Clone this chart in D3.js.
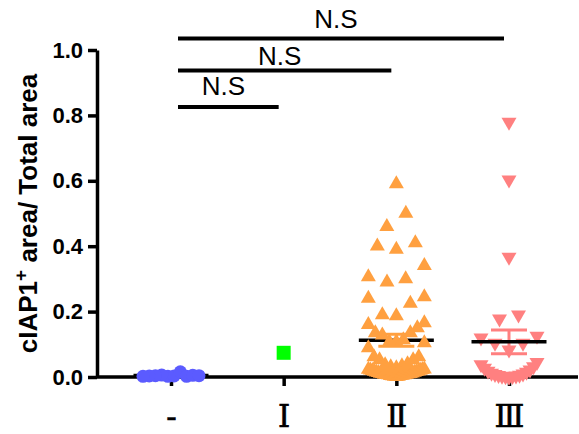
<!DOCTYPE html>
<html>
<head>
<meta charset="utf-8">
<script src="https://cdn.jsdelivr.net/npm/d3@7"></script>
<style>
  body { margin: 0; background: #fff; }
</style>
</head>
<body>
<div id="chart"></div>
<script>
// Chart size and plot box
const width = 579;
const height = 434;
const margin = {left: 97, right: 1, top: 50, bottom: 57};

// Groups on the x axis
const groups = ["-", "Ⅰ", "Ⅱ", "Ⅲ"];

// cIAP1+ area / total area, one array per group
const valuesNone = [0.002, 0.003, 0.006, 0.016, 0.004, 0.002, 0.003, 0.005, 0.002, 0.004];
const valuesI = [0.074];
const valuesII = [
  0.001, 0.002, 0.002, 0.003, 0.004, 0.004, 0.005, 0.006, 0.006, 0.007,
  0.008, 0.008, 0.009, 0.010, 0.010, 0.011, 0.012, 0.013, 0.014, 0.015,
  0.016, 0.017, 0.018, 0.019, 0.020, 0.021, 0.022, 0.023, 0.024,
  0.028, 0.031, 0.034, 0.037, 0.040, 0.052, 0.052, 0.061, 0.061, 0.089, 0.104,
  0.107, 0.107, 0.113, 0.128, 0.135, 0.135, 0.150, 0.160, 0.165,
  0.187, 0.190, 0.225, 0.240, 0.245,
  0.290, 0.300, 0.306, 0.340,
  0.390, 0.400, 0.410,
  0.460, 0.500,
  0.590
];
const valuesIII = [
  0.000, 0.001, 0.002, 0.003, 0.004, 0.005, 0.006, 0.008, 0.010, 0.012,
  0.015, 0.018, 0.022, 0.027, 0.032, 0.038, 0.045,
  0.083, 0.104, 0.104, 0.120, 0.125,
  0.178, 0.190,
  0.367, 0.603, 0.780
];

// y axis ticks
const yTicks = [0, 0.2, 0.4, 0.6, 0.8, 1.0];

// significance brackets
const comparisons = [
  {from: "-", to: "Ⅰ", y: 0.826, labelY: 0.863, label: "N.S"},
  {from: "-", to: "Ⅱ", y: 0.937, labelY: 0.955, label: "N.S"},
  {from: "-", to: "Ⅲ", y: 1.035, labelY: 1.068, label: "N.S"}
];

// styling per group
const colors = ["#5b5bff", "#00ff00", "#ffa040", "#ff8080"];
const shapes = ["circle", "square", "triangle", "triangleDown"];
const binStart = [0.025, 0.025, 0.025, 0.05];
const meanOnTop = [false, false, false, true];
const binSize = 0.08;

const allValues = [valuesNone, valuesI, valuesII, valuesIII];

const svg = d3.select("#chart")
  .append("svg")
  .attr("width", width)
  .attr("height", height)
  .attr("viewBox", [0, 0, width, height]);

svg.append("rect").attr("width", width).attr("height", height).attr("fill", "#fff");

// scales
const yScale = d3.scaleLinear()
  .domain([0, 1])
  .range([height - margin.bottom, margin.top]);

const xScale = d3.scalePoint()
  .domain(groups)
  .range([margin.left + 74, width - margin.right - 69]);

// scatter layout: points grouped in rows, spread center-out (left first)
function swarm(values, start) {
  const rows = d3.group(values.map((v, i) => ({v, i})), d => Math.floor((d.v - start) / binSize));
  const out = [];
  for (const [, pts] of rows) {
    const n = pts.length;
    const s = n > 1 ? Math.min(19, 56 / (n - 1)) : 0;
    pts.forEach((p, j) => {
      let off;
      if (n % 2 === 1) {
        const k = Math.ceil(j / 2);
        off = j === 0 ? 0 : (j % 2 === 1 ? -k : k) * s;
      } else {
        const k = Math.floor(j / 2) + 0.5;
        off = (j % 2 === 0 ? -k : k) * s;
      }
      out.push({v: p.v, dx: off});
    });
  }
  return out;
}

function markerPath(shape) {
  if (shape === "triangle") return "M0,-8.7L7.5,4.3L-7.5,4.3Z";
  if (shape === "triangleDown") return "M0,8.7L7.5,-4.3L-7.5,-4.3Z";
  if (shape === "square") return "M-7,-7H7V7H-7Z";
  return d3.symbol(d3.symbolCircle, Math.PI * 6.5 * 6.5)();
}

function drawMean(g, vals, gi) {
  if (vals.length < 2) return;
  const cx = xScale(groups[gi]);
  const m = d3.mean(vals);
  const sem = d3.deviation(vals) / Math.sqrt(vals.length);
  // SEM bar
  g.append("line")
    .attr("x1", cx).attr("x2", cx)
    .attr("y1", yScale(m + sem)).attr("y2", yScale(m - sem))
    .attr("stroke", colors[gi]).attr("stroke-width", 3);
  [m + sem, m - sem].forEach(v => {
    g.append("line")
      .attr("x1", cx - 18).attr("x2", cx + 18)
      .attr("y1", yScale(v)).attr("y2", yScale(v))
      .attr("stroke", colors[gi]).attr("stroke-width", 3);
  });
  // mean line
  g.append("line")
    .attr("x1", cx - 37.5).attr("x2", cx + 37.5)
    .attr("y1", yScale(m)).attr("y2", yScale(m))
    .attr("stroke", "#000").attr("stroke-width", 3.5);
}

// axes
svg.append("line")
  .attr("x1", margin.left).attr("x2", width - margin.right)
  .attr("y1", yScale(0)).attr("y2", yScale(0))
  .attr("stroke", "#000").attr("stroke-width", 3.5);

const yAxis = svg.append("g")
  .attr("transform", `translate(${margin.left}, 0)`)
  .call(d3.axisLeft(yScale)
    .tickValues(yTicks)
    .tickFormat(d3.format(".1f"))
    .tickSize(9)
    .tickSizeOuter(0)
    .tickPadding(5));
yAxis.select(".domain").attr("stroke-width", 3.5);
yAxis.selectAll(".tick line").attr("stroke-width", 3.5);
yAxis.selectAll(".tick text")
  .attr("font-family", "'Liberation Sans', Arial, sans-serif")
  .attr("font-weight", "bold")
  .attr("font-size", "22px")
  .attr("fill", "#000");

const xAxis = svg.append("g")
  .attr("transform", `translate(0, ${yScale(0)})`)
  .call(d3.axisBottom(xScale).tickSize(9).tickSizeOuter(0).tickPadding(19));
xAxis.select(".domain").remove();
xAxis.selectAll(".tick line").attr("stroke-width", 3.5);
xAxis.selectAll(".tick text")
  .attr("font-family", "'DejaVu Serif', serif")
  .attr("font-size", "31px")
  .attr("stroke", "#000")
  .attr("stroke-width", 0.6)
  .attr("fill", "#000");

// y title
const title = svg.append("text")
  .attr("transform", `translate(37, ${(margin.top + yScale(0)) / 2}) rotate(-90)`)
  .attr("text-anchor", "middle")
  .attr("font-family", "'Liberation Sans', Arial, sans-serif")
  .attr("font-weight", "bold")
  .attr("font-size", "26px")
  .attr("fill", "#000");
title.append("tspan").text("cIAP1");
title.append("tspan").attr("dy", -10).attr("font-size", "19px").text("+");
title.append("tspan").attr("dy", 10).text(" area/ Total area");

// points and means
allValues.forEach((vals, gi) => {
  const g = svg.append("g");
  if (!meanOnTop[gi]) drawMean(g, vals, gi);
  const pts = swarm(vals, binStart[gi]);
  g.selectAll("path.pt")
    .data(pts)
    .enter()
    .append("path")
    .attr("class", "pt")
    .attr("d", markerPath(shapes[gi]))
    .attr("transform", d => `translate(${xScale(groups[gi]) + d.dx}, ${yScale(d.v)})`)
    .attr("fill", colors[gi]);
  if (meanOnTop[gi]) drawMean(g, vals, gi);
});

// significance brackets
comparisons.forEach(c => {
  const x1 = xScale(c.from) + 7;
  const x2 = xScale(c.to) - 5;
  svg.append("line")
    .attr("x1", x1).attr("x2", x2)
    .attr("y1", yScale(c.y)).attr("y2", yScale(c.y))
    .attr("stroke", "#000").attr("stroke-width", 4);
  svg.append("text")
    .attr("x", (x1 + x2) / 2 - 5)
    .attr("y", yScale(c.labelY))
    .attr("text-anchor", "middle")
    .attr("font-family", "'Liberation Sans', Arial, sans-serif")
    .attr("font-size", "26px")
    .attr("fill", "#000")
    .text(c.label);
});
</script>
</body>
</html>
